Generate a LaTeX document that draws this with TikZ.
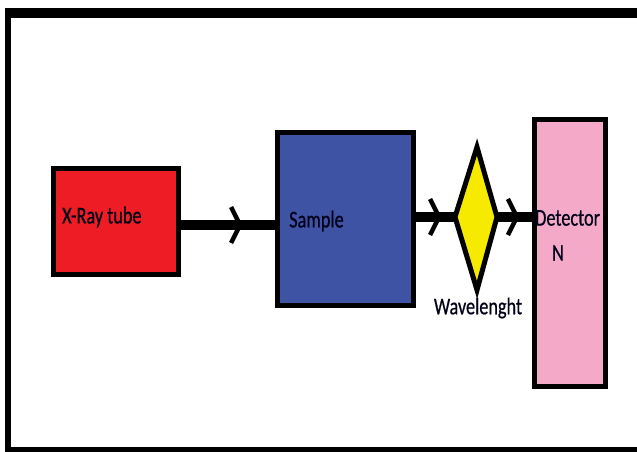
\documentclass[tikz,border=0pt]{standalone}
\usepackage{fontspec}
\setmainfont{Carlito}[FakeStretch=0.76, FakeBold=0.6]
\usetikzlibrary{arrows.meta,decorations.markings,shapes.geometric}
\definecolor{tubered}{HTML}{EE1C24}
\definecolor{sampleblue}{HTML}{3F53A4}
\definecolor{gemyellow}{HTML}{F5EA00}
\definecolor{detpink}{HTML}{F4A9C8}
\tikzset{
  unit/.style={draw=black, line width=5pt, inner sep=0pt, anchor=north west},
  label/.style={font=\fontsize{24}{26}\selectfont, text=black!90!blue, inner sep=0pt},
  beam/.style={line width=10pt, postaction={decorate}},
  chevron/.style={decoration={markings,
      mark=at position #1 with {\arrow{Straight Barb[length=9pt,width=36pt,line width=4.5pt]}}}}
}
\begin{document}
\begin{tikzpicture}[x=1pt,y=-1pt]
\useasboundingbox (0,0) rectangle (637,452);
% outer frame (open on the right)
\fill (5,8) rectangle (637,18);
\fill (5,8) rectangle (11,452);
\fill (5,447) rectangle (637,452);

% units
\node[unit, fill=tubered, minimum width=125pt, minimum height=106pt] (tube) at (50.5,165.5) {};
\node[unit, fill=sampleblue, minimum width=136pt, minimum height=173pt] (sample) at (274.5,129.5) {};
\node[unit, fill=detpink, minimum width=71pt, minimum height=267pt] (det) at (531.5,116.5) {};
\draw[fill=gemyellow, line width=5pt, line join=miter]
  (477,147) coordinate (gt) -- (497,217) coordinate (gr) -- (477,290) coordinate (gb) -- (455,217) coordinate (gl) -- cycle;

% beams
\draw[beam, chevron=0.66] (tube.east |- 0,225) coordinate (a0) -- (sample.west |- 0,225) coordinate (a1);
\draw[beam, chevron=0.66] (sample.east |- 0,217) coordinate (b0) -- (gl);
\draw[beam, chevron=0.65] (gr) -- (det.west |- 0,217) coordinate (c1);

% texts
\node[label, anchor=west] (ttube) at (62,217) {X-Ray tube};
\node[label, anchor=west] (tsample) at (289,221) {Sample};
\node[label, anchor=west] (tdet) at (535,218) {Detector};
\node[label] (tn) at (558,253) {N};
\node[label] (twave) at (478,308) {Wavelenght};
\end{tikzpicture}
\end{document}
